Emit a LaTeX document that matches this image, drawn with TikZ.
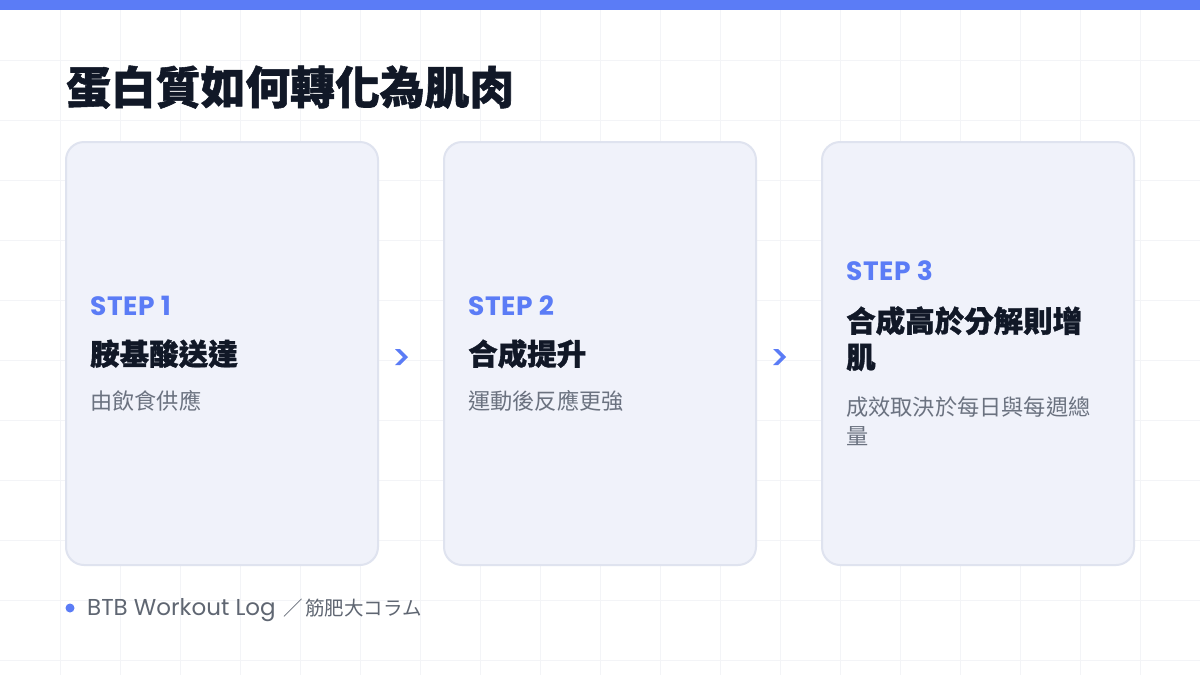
\documentclass[tikz,border=0pt]{standalone}
\usepackage{fontspec}
\setmainfont{Poppins}
\newfontfamily\steplat{Poppins}[LetterSpace=2]
\newfontfamily\cjk{Noto Sans CJK TC}
\newfontfamily\cjkheavy{Noto Sans CJK TC}[BoldFeatures={FakeBold=1.2}]
\definecolor{accent}{HTML}{5B7CF6}
\definecolor{ink}{HTML}{111827}
\definecolor{muted}{HTML}{6B7280}
\definecolor{footgray}{HTML}{5F6672}
\definecolor{cardfill}{HTML}{F0F2FA}
\definecolor{cardline}{HTML}{DFE3EF}
\definecolor{gridline}{HTML}{F3F4F7}
\begin{document}
\begin{tikzpicture}[x=1pt,y=-1pt,
  card/.style={draw=cardline,line width=2pt,fill=cardfill,rounded corners=18pt,minimum width=312pt,minimum height=423pt,inner sep=0pt},
  steplabel/.style={anchor=base west,inner sep=0pt,text=accent,font=\steplat\bfseries\fontsize{26.5}{30}\selectfont},
  steptitle/.style={anchor=base west,inner sep=0pt,text=ink,font=\cjkheavy\bfseries\fontsize{29.5}{36}\selectfont},
  stepsub/.style={anchor=base west,inner sep=0pt,text=muted,font=\cjk\fontsize{22.2}{28}\selectfont},
  chev/.style={fill=accent}]
\useasboundingbox (0,0) rectangle (1200,675);
\fill[white] (0,0) rectangle (1200,675);
\foreach \x in {60,120,...,1140} \draw[gridline,line width=1pt] (\x,10) -- (\x,675);
\foreach \y in {60,120,...,660} \draw[gridline,line width=1pt] (0,\y) -- (1200,\y);
\fill[accent] (0,0) rectangle (1200,10);

\node[anchor=base west,inner sep=0pt,text=ink,font=\cjkheavy\bfseries\fontsize{44.8}{52}\selectfont] (title) at (66,104) {蛋白質如何轉化為肌肉};

\node[card] (c1) at (222,353.5) {};
\node[card] (c2) at (600,353.5) {};
\node[card] (c3) at (978,353.5) {};

\node[steplabel] (l1) at (90,315) {STEP 1};
\node[steptitle] (t1) at (90,365) {胺基酸送達};
\node[stepsub] (s1) at (90,409) {由飲食供應};

\node[steplabel] (l2) at (468,315) {STEP 2};
\node[steptitle] (t2) at (468,365) {合成提升};
\node[stepsub] (s2) at (468,409) {運動後反應更強};

\node[steplabel] (l3) at (846,280) {STEP 3};
\node[steptitle] (t3a) at (846,332) {合成高於分解則增};
\node[steptitle] (t3b) at (846,368) {肌};
\node[stepsub] (s3a) at (846,415) {成效取決於每日與每週總};
\node[stepsub] (s3b) at (846,444) {量};

\fill[chev] (395,349) -- (400,349) -- (408,357) -- (400,365) -- (395,365) -- (403,357) -- cycle;
\fill[chev] (773,349) -- (778,349) -- (786,357) -- (778,365) -- (773,365) -- (781,357) -- cycle;

\node[circle,fill=accent,minimum size=9pt,inner sep=0pt] (dot) at (70,608) {};
\node[anchor=base west,inner sep=0pt,text=footgray,font=\fontsize{23}{26}\selectfont] (credit) at (87,615.5) {BTB Workout Log\hspace{8pt}{\cjk\fontsize{19.5}{26}\selectfont ／\hspace{2pt}筋肥大コラム}};
\end{tikzpicture}
\end{document}
